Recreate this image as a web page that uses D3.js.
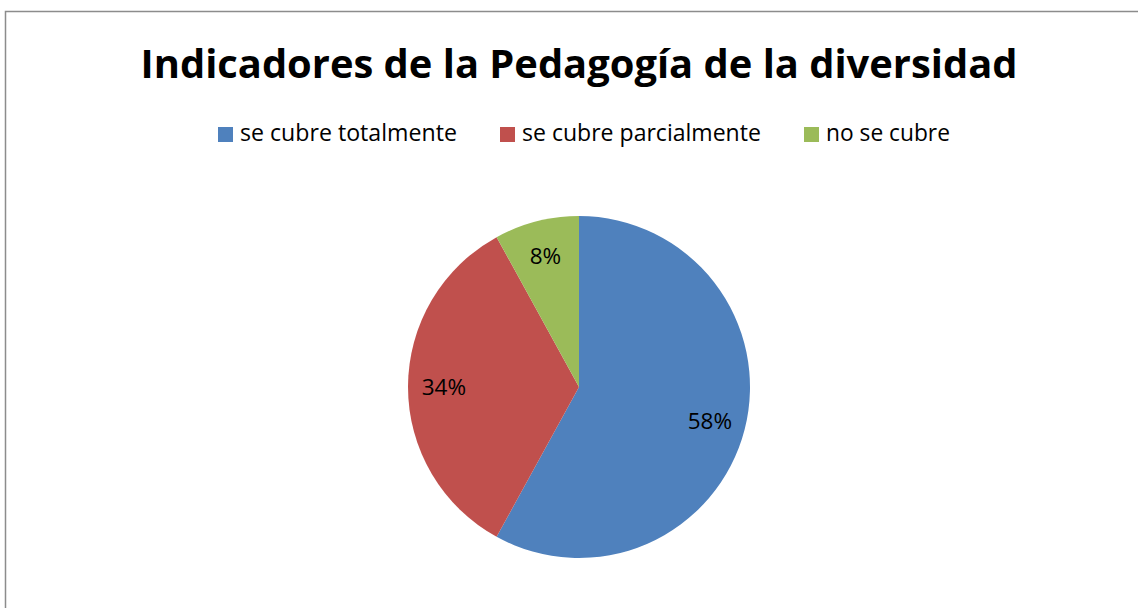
<!DOCTYPE html>
<html>
<head>
<meta charset="utf-8">
<script src="https://cdn.jsdelivr.net/npm/d3@7"></script>
<style>
  body { margin: 0; background: #fff; }
  svg { display: block; }
</style>
</head>
<body>
<div id="chart"></div>
<script>
var categories = ["se cubre totalmente", "se cubre parcialmente", "no se cubre"];
var values = [58, 34, 8];
var labels = ["58%", "34%", "8%"];
var colors = ["#4F81BD", "#C0504D", "#9BBB59"];

var svgWidth = 1138;
var svgHeight = 608;
var fontFamily = "'Open Sans', 'Noto Sans', sans-serif";

var svg = d3.select("#chart")
  .append("svg")
  .attr("width", svgWidth)
  .attr("height", svgHeight);

// chart frame (runs off the right and bottom edges)
svg.append("rect")
  .attr("x", 5.5)
  .attr("y", 11.5)
  .attr("width", svgWidth)
  .attr("height", svgHeight)
  .attr("fill", "#fff")
  .attr("stroke", "#8c8c8c")
  .attr("stroke-width", 1.5);

// fit a text element to a target width by scaling its font size
function fitWidth(sel, target) {
  var w = sel.node().getComputedTextLength();
  var fs = parseFloat(sel.attr("font-size"));
  sel.attr("font-size", fs * target / w);
}

// Title
var title = svg.append("text")
  .attr("x", 579)
  .attr("y", 78)
  .attr("text-anchor", "middle")
  .attr("font-family", fontFamily)
  .attr("font-weight", "bold")
  .attr("font-size", 40)
  .attr("fill", "#000")
  .text("Indicadores de la Pedagogía de la diversidad");
fitWidth(title, 877);

// Legend
var legendX = [218, 500, 804];
var legendW = [217, 239, 124];
var legend = svg.append("g");
categories.forEach(function (c, i) {
  legend.append("rect")
    .attr("x", legendX[i])
    .attr("y", 127)
    .attr("width", 15)
    .attr("height", 15)
    .attr("fill", colors[i]);
  var t = legend.append("text")
    .attr("x", legendX[i] + 22)
    .attr("y", 141)
    .attr("font-family", fontFamily)
    .attr("font-size", 20)
    .attr("fill", "#000")
    .text(c);
  fitWidth(t, legendW[i]);
});

// Pie
var cx = 579, cy = 387, radius = 171;
var pieGroup = svg.append("g")
  .attr("transform", `translate(${cx}, ${cy})`);

var pie = d3.pie().sort(null).value(d => d);
var arcs = pie(values);

var arc = d3.arc().innerRadius(0).outerRadius(radius);
var labelArc = d3.arc().innerRadius(radius * 0.79).outerRadius(radius * 0.79);

pieGroup.selectAll("path")
  .data(arcs)
  .enter()
  .append("path")
  .attr("d", arc)
  .attr("fill", (d, i) => colors[i]);

pieGroup.selectAll("text.lbl")
  .data(arcs)
  .enter()
  .append("text")
  .attr("class", "lbl")
  .attr("transform", d => `translate(${labelArc.centroid(d)})`)
  .attr("text-anchor", "middle")
  .attr("dy", "0.36em")
  .attr("font-family", fontFamily)
  .attr("font-size", 22.5)
  .attr("fill", "#000")
  .text((d, i) => labels[i]);
</script>
</body>
</html>
